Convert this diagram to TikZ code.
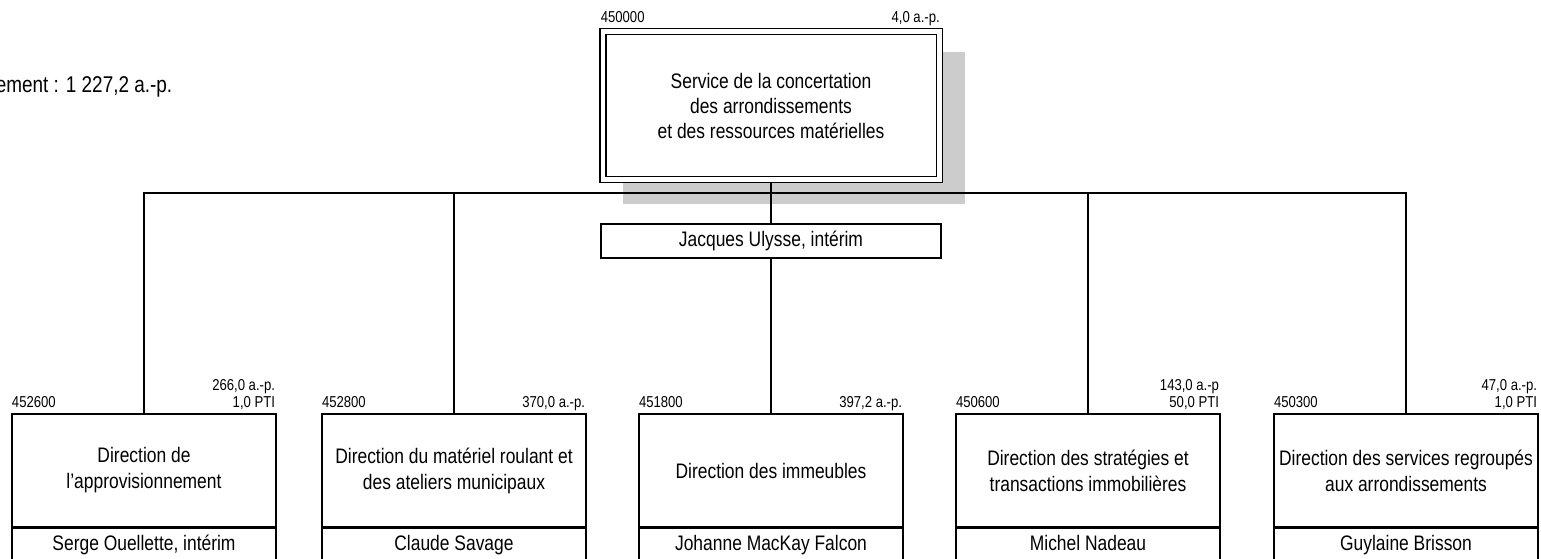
\documentclass[tikz,border=0pt]{standalone}
\usepackage{fontspec}
\setmainfont{Liberation Sans}[FakeStretch=0.83]
\usetikzlibrary{calc,positioning}
\definecolor{shadowgray}{RGB}{204,204,204}

\begin{document}
\begin{tikzpicture}[x=1pt,y=-1pt,line width=1.6pt,
  headbox/.style={draw,double,double distance=4.5pt,line width=1.5pt,fill=white,minimum width=336.5pt,minimum height=147.5pt,align=center,inner sep=0pt,font=\fontsize{21}{25}\selectfont},
  chiefbox/.style={draw,fill=white,minimum width=340pt,minimum height=34pt,inner sep=0pt,text height=15pt,text depth=5pt,font=\fontsize{21}{25}\selectfont},
  unitbox/.style={draw,fill=white,minimum width=264pt,minimum height=113pt,align=center,inner sep=0pt,font=\fontsize{21}{26}\selectfont},
  namebox/.style={draw,fill=white,minimum width=264pt,minimum height=34pt,inner sep=0pt,text height=15pt,text depth=5pt,font=\fontsize{21}{25}\selectfont},
  codelabel/.style={inner sep=0pt,text depth=0pt,font=\fontsize{15.8}{17}\selectfont}]

  \useasboundingbox (0,0) rectangle (1541,559);

  \node[anchor=base east,inner sep=0pt,font=\fontsize{22.8}{28}\selectfont] (total) at (173,93) {ement : 1 227,2 a.-p.};

  \fill[shadowgray] (623,52) rectangle (965,204);

  \node[headbox] (s) at (771,105.5) {Service de la concertation\\des arrondissements\\et des ressources matérielles};
  \node[chiefbox] (j) at (771,241) {Jacques Ulysse, intérim};

  \node[unitbox] (d1) at (144,470.5) {Direction de\\l’approvisionnement};
  \node[unitbox] (d2) at (454,470.5) {Direction du matériel roulant et\\des ateliers municipaux};
  \node[unitbox] (d3) at (771,470.5) {Direction des immeubles};
  \node[unitbox] (d4) at (1088,470.5) {Direction des stratégies et\\transactions immobilières};
  \node[unitbox] (d5) at (1406,470.5) {Direction des services regroupés\\aux arrondissements};

  \node[namebox] (n1) [below=0pt of d1] {Serge Ouellette, intérim};
  \node[namebox] (n2) [below=0pt of d2] {Claude Savage};
  \node[namebox] (n3) [below=0pt of d3] {Johanne MacKay Falcon};
  \node[namebox] (n4) [below=0pt of d4] {Michel Nadeau};
  \node[namebox] (n5) [below=0pt of d5] {Guylaine Brisson};

  \node[codelabel,anchor=south west] at ($(s.north west)+(-2,-7.5)$) {450000};
  \node[codelabel,anchor=south east] at ($(s.north east)+(0.5,-7.5)$) {4,0 a.-p.};

  \node[codelabel,anchor=south west] at ($(d1.north west)+(0,-5)$) {452600};
  \node[codelabel,anchor=south east,align=right] at ($(d1.north east)+(-1,-5)$) {266,0 a.-p.\\1,0 PTI};
  \node[codelabel,anchor=south west] at ($(d2.north west)+(0,-5)$) {452800};
  \node[codelabel,anchor=south east] at ($(d2.north east)+(-1,-5)$) {370,0 a.-p.};
  \node[codelabel,anchor=south west] at ($(d3.north west)+(0,-5)$) {451800};
  \node[codelabel,anchor=south east] at ($(d3.north east)+(-1,-5)$) {397,2 a.-p.};
  \node[codelabel,anchor=south west] at ($(d4.north west)+(0,-5)$) {450600};
  \node[codelabel,anchor=south east,align=right] at ($(d4.north east)+(-1,-5)$) {143,0 a.-p\\50,0 PTI};
  \node[codelabel,anchor=south west] at ($(d5.north west)+(0,-5)$) {450300};
  \node[codelabel,anchor=south east,align=right] at ($(d5.north east)+(-1,-5)$) {47,0 a.-p.\\1,0 PTI};

  \coordinate (bus) at (771,193);
  \draw ($(s.south)+(0,3)$) -- (j.north);
  \draw (j.south) -- (d3.north);
  \draw (d1.north) -- (d1.north |- bus) -- (d5.north |- bus) -- (d5.north);
  \draw (d2.north) -- (d2.north |- bus);
  \draw (d4.north) -- (d4.north |- bus);

\end{tikzpicture}
\end{document}
